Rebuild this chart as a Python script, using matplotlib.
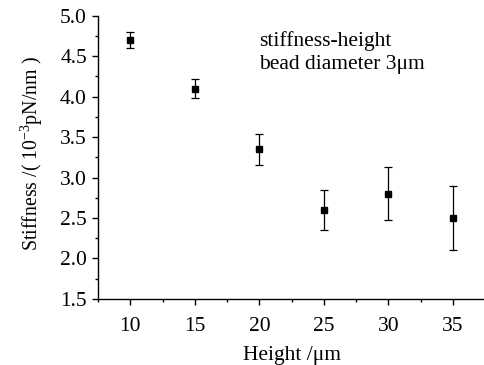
import matplotlib
matplotlib.use("Agg")
import matplotlib.pyplot as plt
from matplotlib.ticker import MultipleLocator

plt.rcParams['font.family'] = ['Liberation Serif', 'DejaVu Serif']
plt.rcParams['mathtext.fontset'] = 'custom'
plt.rcParams['mathtext.rm'] = 'Liberation Serif'
plt.rcParams['mathtext.default'] = 'regular'

height = [10, 15, 20, 25, 30, 35]
stiffness = [4.70, 4.10, 3.35, 2.60, 2.80, 2.50]
err = [0.10, 0.12, 0.19, 0.25, 0.33, 0.39]

fig = plt.figure(figsize=(4.84, 3.65), dpi=100)
ax = fig.add_axes([0.2025, 0.181, 0.8, 0.776])

ax.errorbar(height, stiffness, yerr=err, fmt='s', color='black',
            markersize=5, capsize=3, elinewidth=0.9, capthick=0.9)

ax.set_xlim(7.5, 37.5)
ax.set_ylim(1.5, 5.0)
ax.xaxis.set_major_locator(MultipleLocator(5))
ax.xaxis.set_minor_locator(MultipleLocator(2.5))
ax.yaxis.set_major_locator(MultipleLocator(0.5))
ax.yaxis.set_minor_locator(MultipleLocator(0.25))
ax.yaxis.set_major_formatter(lambda v, p: f"{v:.1f}")

for s in ['top', 'right']:
    ax.spines[s].set_visible(False)
for s in ['left', 'bottom']:
    ax.spines[s].set_linewidth(1.0)
ax.tick_params(which='major', direction='out', length=4, width=1, labelsize=15.5)
ax.tick_params(which='minor', direction='out', length=2.5, width=1)
ax.tick_params(axis='x', pad=9)
ax.tick_params(axis='y', pad=4)

ax.set_xlabel('Height /\u03bcm', fontsize=15.5, labelpad=7)
ax.set_ylabel('Stiffness /( 10$^{-3}$pN/nm )', fontsize=14.3, va='center')
ax.yaxis.set_label_coords(-0.170, 0.512)

ax.text(0.415, 0.945, 'stiffness-height', transform=ax.transAxes,
        fontsize=15.5, va='top')
ax.text(0.415, 0.86, 'bead diameter 3\u03bcm', transform=ax.transAxes,
        fontsize=15.5, va='top')

fig.savefig('out.png', dpi=100)
